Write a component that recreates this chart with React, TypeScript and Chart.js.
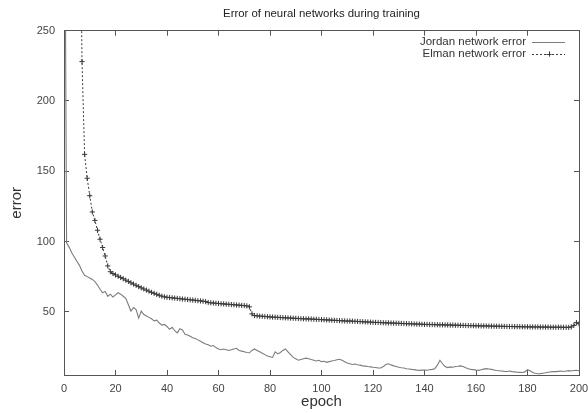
import React, { useEffect, useRef } from "react";
import { Chart, registerables } from "chart.js";

Chart.register(...registerables);

const TITLE = "Error of neural networks during training";
const X_LABEL = "epoch";
const Y_LABEL = "error";
const SERIES_NAMES = ["Jordan network error", "Elman network error"];
const X_TICK_STEP = 20;
const X_MIN = 0;
const X_MAX = 200;
const Y_MIN = 5;
const Y_MAX = 250;
const Y_TICKS = [50, 100, 150, 200, 250];

const EPOCHS = Array.from({ length: 201 }, (_, i) => i);

const JORDAN = [
  480, 99, 96, 92, 89, 86, 83, 79, 76, 75,
  74, 73, 71.5, 69, 66, 63.5, 64.5, 61, 62.5, 60.5,
  62, 63.5, 62.5, 61, 59.5, 55, 50.5, 53, 51.5, 45.5,
  50.5, 48, 47, 46, 45, 43.5, 44, 42, 40.5, 41,
  39.5, 37.5, 39, 36.5, 35, 38, 37, 34, 33.5, 32.5,
  31.5, 31, 30, 29, 28, 27, 26.5, 25.5, 26, 24.5,
  23.5, 23, 23.5, 23, 22.5, 23, 23.5, 24, 22.5, 22,
  21.5, 21, 20.8, 22.5, 23.5, 22.5, 21.5, 20.5, 19.5, 18.5,
  18, 17.5, 21.5, 20, 21, 22.5, 23.5, 21.5, 19.5, 17.5,
  16.5, 15.5, 16, 16.5, 17, 16.5, 16, 15.5, 15, 15.5,
  14.5, 14.8, 14, 14.5, 15, 15.3, 15.8, 16.2, 15.5, 14.5,
  13.5, 13, 12.5, 12.8, 12.3, 12, 11.5, 11.3, 11, 10.8,
  10.5, 10.3, 10, 10, 11, 12.5, 13, 12.2, 11.5, 11,
  10.5, 10.2, 10, 9.5, 9.3, 9, 8.8, 8.5, 8.3, 8.5,
  8.6, 8.4, 8.7, 9, 9.5, 12, 15.5, 13, 11, 10.3,
  10.8, 10.5, 11, 11.2, 11.5, 11, 10.2, 9.5, 9, 8.8,
  8.5, 8.3, 8.8, 9.2, 9.5, 9.3, 9, 8.6, 8.2, 8,
  7.8, 7.6, 7.5, 7.8, 7.4, 7.2, 7, 6.9, 6.8, 7.2,
  8.8, 8, 6.8, 6.2, 5.9, 6, 6.3, 6.6, 7, 7.2,
  7.5, 7.4, 7.6, 7.8, 7.5, 7.9, 8.1, 7.8, 8.2, 8.3,
  8,
];

const ELMAN = [
  2000, 1600, 1200, 900, 700, 520, 380, 228, 162, 145,
  132.6, 121, 115, 108, 101.6, 95.7, 89.7, 82.6, 78.5, 77.2,
  76.2, 75.3, 74.4, 73.5, 72.5, 71.6, 70.6, 69.7, 68.8, 67.9,
  67, 66.2, 65.4, 64.6, 63.8, 63.1, 62.4, 61.7, 61.1, 60.6,
  60.3, 60.1, 59.9, 59.7, 59.5, 59.3, 59.1, 58.9, 58.7, 58.5,
  58.3, 58.1, 57.9, 57.7, 57.5, 57.2, 56.6, 56.4, 56.2, 56,
  55.9, 55.7, 55.6, 55.4, 55.3, 55.1, 55, 54.8, 54.7, 54.5,
  54.4, 54.2, 53.5, 48.5, 47.3, 47.1, 46.9, 46.8, 46.6, 46.5,
  46.3, 46.2, 46.1, 46, 45.9, 45.8, 45.7, 45.6, 45.5, 45.4,
  45.3, 45.2, 45.1, 45, 44.9, 44.9, 44.8, 44.7, 44.6, 44.5,
  44.4, 44.3, 44.2, 44.1, 44, 43.9, 43.8, 43.7, 43.6, 43.5,
  43.4, 43.4, 43.3, 43.2, 43.1, 43, 42.9, 42.8, 42.7, 42.6,
  42.5, 42.4, 42.4, 42.3, 42.2, 42.1, 42.1, 42, 41.9, 41.8,
  41.8, 41.7, 41.6, 41.5, 41.5, 41.4, 41.3, 41.2, 41.2, 41.1,
  41, 41, 40.9, 40.9, 40.8, 40.8, 40.7, 40.7, 40.6, 40.6,
  40.5, 40.5, 40.4, 40.4, 40.3, 40.3, 40.2, 40.2, 40.1, 40.1,
  40, 40, 39.9, 39.9, 39.9, 39.8, 39.8, 39.7, 39.7, 39.7,
  39.6, 39.6, 39.5, 39.5, 39.5, 39.4, 39.4, 39.4, 39.3, 39.3,
  39.3, 39.2, 39.2, 39.2, 39.2, 39.1, 39.1, 39.1, 39.1, 39,
  39, 39, 39, 39, 38.9, 38.9, 38.9, 39.2, 40.3, 42.3,
  41.4,
];

const FONT = "'Liberation Sans', Arial, Helvetica, sans-serif";
const FRAME_COLOR = "#555555";
const JORDAN_COLOR = "#7c7c7c";
const ELMAN_COLOR = "#3a3a3a";
const TICK_LEN = -5;

const innerGrid = {
  display: true,
  drawOnChartArea: false,
  drawTicks: true,
  tickLength: TICK_LEN,
  color: FRAME_COLOR,
  lineWidth: 1,
};
const frameBorder = { display: true, color: FRAME_COLOR, width: 1 };

const legendPlugin = {
  id: "gnuLegend",
  afterDraw(chart: any) {
    const ctx = chart.ctx;
    const textRight = 526;
    const sampleL = 532;
    const sampleR = 565;
    const rows = [42, 54];
    ctx.save();
    ctx.font = `11.5px ${FONT}`;
    ctx.fillStyle = "#333333";
    ctx.textAlign = "right";
    ctx.textBaseline = "middle";
    chart.data.datasets.forEach((ds: any, i: number) => {
      const y = rows[i];
      ctx.fillText(ds.label, textRight, y);
      ctx.strokeStyle = ds.borderColor;
      ctx.lineWidth = ds.borderWidth;
      ctx.setLineDash(ds.borderDash || []);
      ctx.beginPath();
      ctx.moveTo(sampleL, y + 0.5);
      ctx.lineTo(sampleR, y + 0.5);
      ctx.stroke();
      ctx.setLineDash([]);
      if (ds.pointRadius > 0) {
        const cx = Math.round((sampleL + sampleR) / 2);
        const r = ds.pointRadius;
        ctx.lineWidth = 1;
        ctx.beginPath();
        ctx.moveTo(cx - r, y + 0.5);
        ctx.lineTo(cx + r, y + 0.5);
        ctx.moveTo(cx + 0.5, y - r);
        ctx.lineTo(cx + 0.5, y + r);
        ctx.stroke();
      }
    });
    ctx.restore();
  },
};

export default function App() {
  const canvasRef = useRef<HTMLCanvasElement | null>(null);

  useEffect(() => {
    if (!canvasRef.current) return;
    Chart.defaults.font.family = FONT;
    const chart = new Chart(canvasRef.current, {
      type: "line",
      data: {
        datasets: [
          {
            label: SERIES_NAMES[0],
            data: EPOCHS.map((e, i) => ({ x: e, y: JORDAN[i] })),
            borderColor: JORDAN_COLOR,
            backgroundColor: JORDAN_COLOR,
            borderWidth: 1.1,
            pointRadius: 0,
            tension: 0,
            fill: false,
          },
          {
            label: SERIES_NAMES[1],
            data: EPOCHS.map((e, i) => ({ x: e, y: ELMAN[i] })),
            borderColor: ELMAN_COLOR,
            backgroundColor: ELMAN_COLOR,
            borderWidth: 1,
            borderDash: [2, 2],
            pointStyle: "cross",
            pointRadius: 2.6,
            pointBorderWidth: 1,
            pointBorderColor: ELMAN_COLOR,
            tension: 0,
            fill: false,
          },
        ],
      },
      options: {
        responsive: false,
        animation: false,
        events: [],
        layout: { padding: { left: 0, right: 9, top: 0, bottom: 0 } },
        plugins: {
          legend: { display: false },
          tooltip: { enabled: false },
          title: {
            display: true,
            text: TITLE,
            fullSize: false,
            color: "#222222",
            font: { size: 11.4, weight: "normal", family: FONT },
            padding: { top: 7, bottom: 10 },
          },
        },
        scales: {
          x: {
            type: "linear",
            position: "bottom",
            min: X_MIN,
            max: X_MAX,
            grid: innerGrid,
            border: frameBorder,
            ticks: {
              stepSize: X_TICK_STEP,
              color: "#444444",
              font: { size: 11, family: FONT },
              padding: 12,
              maxRotation: 0,
              autoSkip: false,
            },
            title: {
              display: true,
              text: X_LABEL,
              color: "#333333",
              font: { size: 15, family: FONT },
              padding: { top: 0, bottom: 2 },
            },
            afterFit: (s: any) => {
              s.height = 38;
              s.paddingRight = 0;
            },
          },
          x2: {
            type: "linear",
            position: "top",
            min: X_MIN,
            max: X_MAX,
            grid: innerGrid,
            border: frameBorder,
            ticks: { display: false, stepSize: X_TICK_STEP, autoSkip: false },
            afterFit: (s: any) => {
              s.height = 0;
              s.paddingLeft = 0;
              s.paddingRight = 0;
            },
          },
          y: {
            type: "linear",
            position: "left",
            min: Y_MIN,
            max: Y_MAX,
            grid: innerGrid,
            border: frameBorder,
            afterBuildTicks: (s: any) => {
              s.ticks = Y_TICKS.map((v) => ({ value: v }));
            },
            ticks: {
              color: "#444444",
              font: { size: 11, family: FONT },
              padding: 14,
            },
            title: {
              display: true,
              text: Y_LABEL,
              color: "#333333",
              font: { size: 15, family: FONT },
              padding: { top: 8, bottom: 0 },
            },
            afterFit: (s: any) => {
              s.width = 64;
            },
          },
          y2: {
            type: "linear",
            position: "right",
            min: Y_MIN,
            max: Y_MAX,
            grid: innerGrid,
            border: frameBorder,
            afterBuildTicks: (s: any) => {
              s.ticks = Y_TICKS.map((v) => ({ value: v }));
            },
            ticks: { display: false },
            afterFit: (s: any) => {
              s.width = 0;
              s.paddingTop = 0;
              s.paddingBottom = 0;
            },
          },
        },
      },
      plugins: [legendPlugin],
    });
    return () => chart.destroy();
  }, []);

  return (
    <div
      style={{
        position: "fixed",
        left: 0,
        top: 0,
        width: 588,
        height: 413,
        background: "#ffffff",
      }}
    >
      <canvas ref={canvasRef} width={588} height={413} />
    </div>
  );
}
